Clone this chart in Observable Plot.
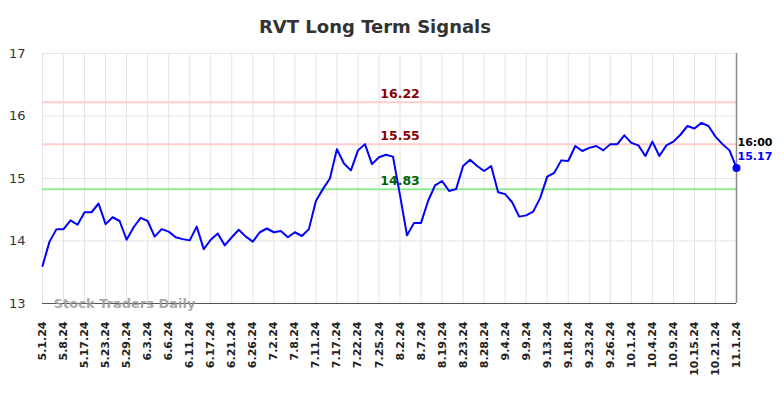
<!DOCTYPE html>
<html>
<head>
<meta charset="utf-8">
<script src="https://cdn.jsdelivr.net/npm/d3@7"></script>
<script src="https://cdn.jsdelivr.net/npm/@observablehq/plot@0.6"></script>
<style>
  html, body { margin: 0; padding: 0; background: #fff; }
  #wrap { position: relative; width: 784px; height: 398px; overflow: hidden; }
  #title { position: absolute; top: 0; left: 0; width: 750px; height: 40px;
           font: bold 18px "DejaVu Sans", sans-serif; line-height: 54px;
           text-align: center; color: #333; }
  #chart { position: absolute; top: 40px; left: 0; }
</style>
</head>
<body>
<div id="wrap">
  <div id="title">RVT Long Term Signals</div>
  <div id="chart"></div>
</div>
<script>
const tickLabels = ["5.1.24","5.8.24","5.17.24","5.23.24","5.29.24","6.3.24","6.6.24","6.11.24","6.17.24","6.21.24","6.26.24","7.2.24","7.8.24","7.11.24","7.17.24","7.22.24","7.25.24","8.2.24","8.7.24","8.19.24","8.23.24","8.28.24","9.4.24","9.9.24","9.13.24","9.18.24","9.23.24","9.26.24","10.1.24","10.4.24","10.9.24","10.15.24","10.21.24","11.1.24"];
const prices = [13.60,13.99,14.19,14.19,14.33,14.26,14.46,14.46,14.60,14.27,
                14.38,14.32,14.02,14.22,14.37,14.32,14.07,14.19,14.15,14.06,
                14.03,14.01,14.23,13.87,14.02,14.12,13.93,14.06,14.18,14.07,
                13.99,14.14,14.20,14.14,14.16,14.06,14.14,14.08,14.19,14.64,
                14.83,15.00,15.47,15.24,15.13,15.45,15.55,15.23,15.34,15.38,
                15.35,14.73,14.09,14.29,14.29,14.64,14.89,14.96,14.80,14.83,
                15.20,15.30,15.20,15.12,15.20,14.78,14.75,14.62,14.39,14.41,
                14.47,14.69,15.03,15.09,15.29,15.28,15.52,15.44,15.49,15.52,
                15.45,15.55,15.55,15.69,15.57,15.53,15.36,15.59,15.36,15.53,
                15.59,15.70,15.84,15.80,15.89,15.84,15.67,15.55,15.45,15.17];
const levelValues = [16.22, 15.55, 14.83];
const levelKinds = ["resistance", "resistance", "support"];
const yTicks = [13, 14, 15, 16, 17];
const lastTime = "16:00";

const tickStep = 3;
const tickIdx = tickLabels.map((_, i) => i * tickStep);
const n = prices.length;
const data = prices.map((v, i) => ({i, v}));
const levels = levelValues.map((v, k) => ({v, kind: levelKinds[k], label: v.toFixed(2)}));
const labelIdx = 51;
const last = data[n - 1];

const chart = Plot.plot({
  width: 784,
  height: 358,
  marginTop: 13,
  marginBottom: 95,
  marginLeft: 42,
  marginRight: 48,
  style: {fontFamily: "DejaVu Sans, sans-serif", background: "#fff", overflow: "visible"},
  x: {domain: [0, n - 1], label: null},
  y: {domain: [13, 17], label: null},
  marks: [
    Plot.gridX(tickIdx, {stroke: "#e3e3e3", strokeOpacity: 1, strokeWidth: 1}),
    Plot.gridY(yTicks, {stroke: "#e3e3e3", strokeOpacity: 1, strokeWidth: 1}),
    Plot.ruleY(levels, {y: "v", stroke: d => d.kind === "support" ? "#90ee90" : "#ffcccc", strokeWidth: 2}),
    Plot.text(levels, {x: () => labelIdx, y: "v", text: "label", dy: -8, fontSize: 12.5, fontWeight: "bold",
      fill: d => d.kind === "support" ? "#006400" : "#8b0000"}),
    Plot.ruleY([13], {stroke: "#555", strokeWidth: 1.2}),
    Plot.ruleX([n - 1], {stroke: "#888", strokeWidth: 1.5}),
    Plot.line(data, {x: "i", y: "v", stroke: "#0000ff", strokeWidth: 2}),
    Plot.dot([last], {x: "i", y: "v", r: 4, fill: "#0000ff"}),
    Plot.text([last], {x: "i", y: "v", text: () => lastTime, dx: 1, dy: -25, textAnchor: "start", fontSize: 11, fontWeight: "bold", fill: "#000"}),
    Plot.text([last], {x: "i", y: "v", text: d => d.v.toFixed(2), dx: 1, dy: -11, textAnchor: "start", fontSize: 11, fontWeight: "bold", fill: "#0000ff"}),
    Plot.text(["Stock Traders Daily"], {x: () => 1.6, y: () => 13, text: d => d, dy: 0, textAnchor: "start", fontSize: 13, fontWeight: "bold", fill: "#999", fillOpacity: 0.85}),
    Plot.axisY(yTicks, {tickSize: 0, tickPadding: 17, fontSize: 13, fill: "#333", tickFormat: d => d, label: null}),
    Plot.axisX(tickIdx, {tickSize: 0, tickPadding: 18, tickRotate: -90, fontSize: 11, fontWeight: "bold", fill: "#222", label: null,
      tickFormat: i => tickLabels[i / tickStep]})
  ]
});
document.getElementById("chart").appendChild(chart);
</script>
</body>
</html>
